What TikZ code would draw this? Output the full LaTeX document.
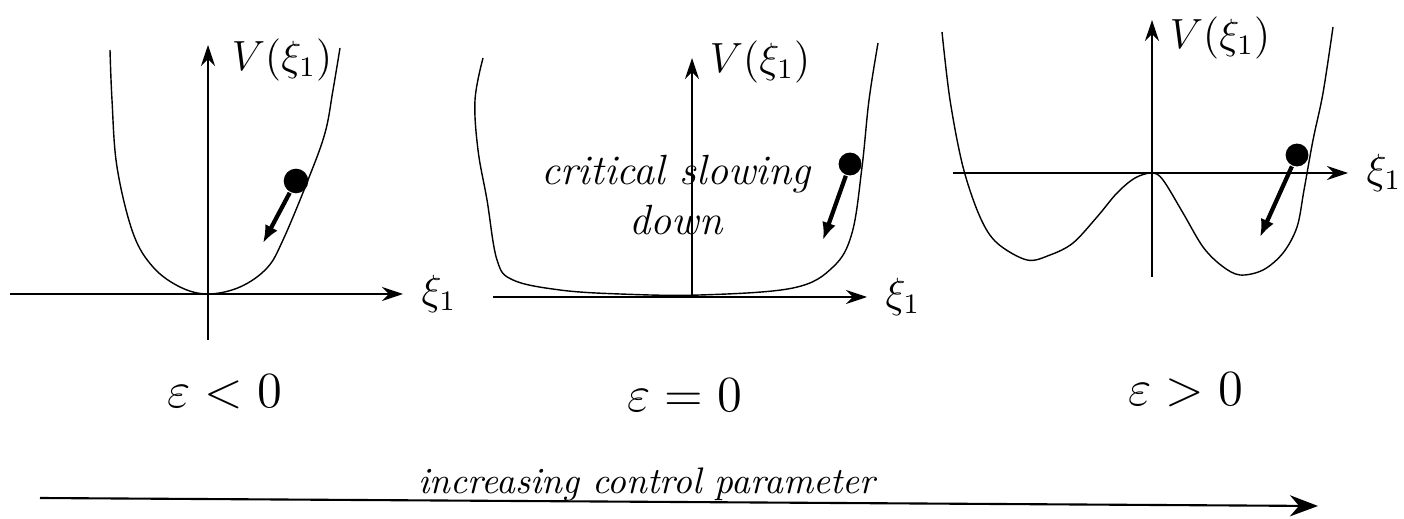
\documentclass[tikz,border=0pt]{standalone}
\usepackage{tikz}
\usetikzlibrary{arrows.meta,positioning}

\begin{document}
\begin{tikzpicture}[x=0.01cm,y=-0.01cm,>={Stealth[length=6pt,width=4pt]},semithick,
    curve/.style={thin,line join=round},
    ball/.style={circle,fill=black,inner sep=0pt,minimum size=7pt},
    push/.style={very thick,-{Latex[length=5pt,width=4pt]}},
    lbl/.style={font=\large,inner sep=1pt},
    eps/.style={font=\Large}]
    \useasboundingbox (0,0) rectangle (1404,519);
    % eps < 0
    \coordinate (x1s) at (10,294);  \coordinate (x1t) at (403,294);
    \coordinate (y1s) at (208,340); \coordinate (y1t) at (208,45);
    \draw[->] (x1s) -- (x1t);
    \draw[->] (y1s) -- (y1t);
    \draw[curve] plot[smooth,tension=0.6] coordinates {(110,50) (112,100) (117,167) (133,233) (153,267) (180,287) (208,294) (240,287) (267,268) (283,240) (308,180) (325,133) (333,90) (340,48)};
    \node[ball] (b1) at (296,181) {};
    \coordinate (a1) at (263,243);
    \draw[push] (b1) -- (a1);
    \node[lbl] (v1) at (282,60) {$V(\xi_1)$};
    \node[lbl,right=4pt of x1t] (k1) {$\xi_1$};
    % eps = 0
    \coordinate (x2s) at (493,297); \coordinate (x2t) at (867,297);
    \coordinate (y2s) at (692,297); \coordinate (y2t) at (692,58);
    \draw[->] (x2s) -- (x2t);
    \draw[->] (y2s) -- (y2t);
    \draw[curve] plot[smooth,tension=0.6] coordinates {(483,58) (475,100) (478,150) (487,200) (497,260) (513,280) (560,290) (620,294) (700,295) (793,288) (833,267) (852,233) (862,167) (869,100) (878,43)};
    \node[ball,minimum size=6.5pt] (b2) at (850,164) {};
    \coordinate (a2) at (823,240);
    \draw[push] (b2) -- (a2);
    \node[lbl] (v2) at (760,62) {$V(\xi_1)$};
    \node[lbl,right=4pt of x2t] (k2) {$\xi_1$};
    \node[font=\large\itshape,align=center] (slow) at (676,195) {critical slowing\\down};
    % eps > 0
    \coordinate (x3s) at (953,173);  \coordinate (x3t) at (1348,173);
    \coordinate (y3s) at (1152,277); \coordinate (y3t) at (1152,20);
    \draw[->] (x3s) -- (x3t);
    \draw[->] (y3s) -- (y3t);
    \draw[curve] plot[smooth,tension=0.55] coordinates {(942,32) (950,100) (963,167) (980,217) (997,243) (1027,260) (1050,255) (1073,243) (1097,217) (1117,193) (1135,178) (1152,173) (1163,180) (1183,213) (1203,247) (1222,266) (1240,275) (1263,270) (1283,253) (1297,227) (1304,190) (1313,140) (1323,93) (1333,27)};
    \node[ball,minimum size=6.5pt] (b3) at (1297,155) {};
    \coordinate (a3) at (1260,237);
    \draw[push] (b3) -- (a3);
    \node[lbl] (v3) at (1220,38) {$V(\xi_1)$};
    \node[lbl,right=4pt of x3t] (k3) {$\xi_1$};
    % control parameter
    \node[eps] (e1) at (225,392) {$\varepsilon<0$};
    \node[eps] (e2) at (685,395) {$\varepsilon=0$};
    \node[eps] (e3) at (1186,390) {$\varepsilon>0$};
    \coordinate (cs) at (40,498);
    \coordinate (ct) at (1318,506);
    \draw[-{Stealth[length=8pt,width=6pt]}] (cs) -- (ct);
    \node[font=\fontsize{10.5}{12}\selectfont\itshape,anchor=base] (ctrl) at (647,494) {increasing control parameter};
\end{tikzpicture}
\end{document}
